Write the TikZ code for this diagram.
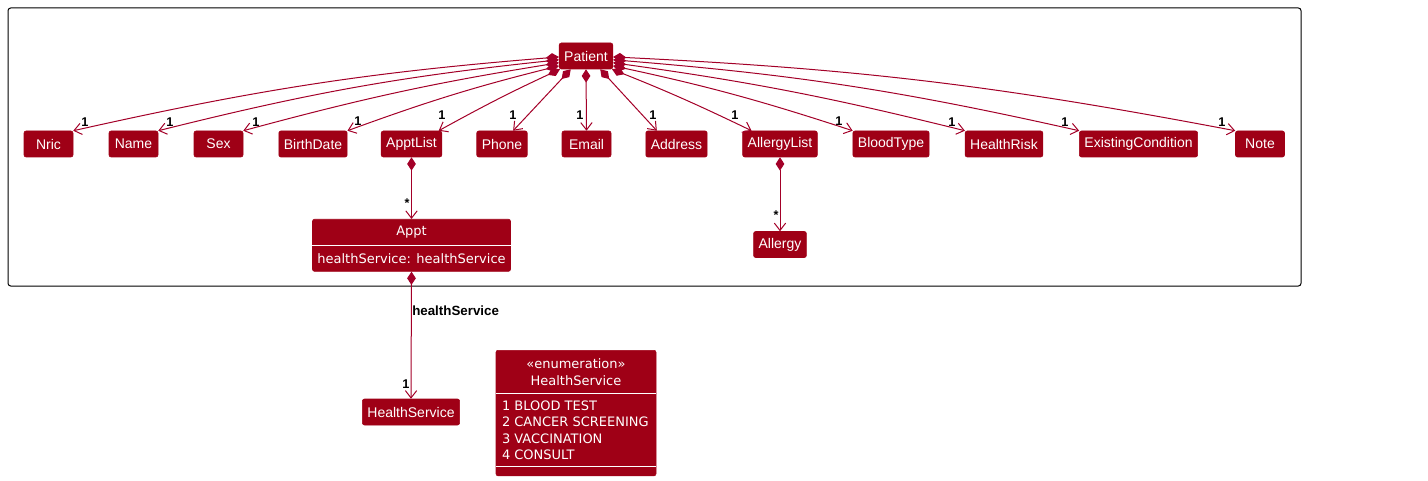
\documentclass[tikz,border=0pt]{standalone}
\usepackage{fontspec}
\setmainfont{Liberation Sans}
\newfontfamily\attrfont{DejaVu Sans}
\usetikzlibrary{arrows.meta,shapes.multipart}
\definecolor{umlred}{HTML}{9F0016}
\definecolor{umlline}{HTML}{A30028}
\newcommand\attrsize{\attrfont\fontsize{9.75}{12.4}\selectfont}

\tikzset{
  cls/.style={fill=umlred, draw=umlred, rounded corners=1.5pt, text=white,
    font=\fontsize{10.5}{12}\selectfont, minimum height=19.5pt,
    minimum width=36.75pt, inner xsep=3.75pt, inner ysep=0pt},
  splitcls/.style={rectangle split, rectangle split parts=#1, fill=umlred,
    draw=umlred, rounded corners=1.5pt, text=white, inner sep=0pt, font=\attrsize},
  mult/.style={font=\bfseries\fontsize{9.5}{10}\selectfont, inner sep=0pt},
  owns/.style={draw=umlline, line width=0.75pt,
    {Diamond[length=10pt,width=6.5pt]}-{Straight Barb[length=5.5pt,width=8.5pt]}},
  splitline/.style={draw=white, line width=0.75pt}
}

\begin{document}
\begin{tikzpicture}[x=0.75pt,y=-0.75pt]
  \useasboundingbox (0,0) rectangle (1428,481);
  %% package frame
  \draw[rounded corners=2pt, line width=0.75pt] (8,8) rectangle (1301,286);

  %% classes
  \node[cls] (Patient) at (586,56) {Patient};
  \foreach \cname/\x in {Nric/48.5, Name/133.5, Sex/218.5, BirthDate/313,
    ApptList/411.5, Phone/502, Email/586.5, Address/676.5, AllergyList/780,
    BloodType/891, HealthRisk/1004, ExistingCondition/1138.5, Note/1260}
  {
    \node[cls] (\cname) at (\x,144) {\cname};
  }
  \node[cls] (Allergy) at (780,244.5) {Allergy};
  \node[cls] (HealthService) at (411,412) {HealthService};

  \node[splitcls=2, anchor=north] (Appt) at (411.5,219)
    {\parbox[c][19.5pt][c]{148.5pt}{\centering Appt}
     \nodepart{two}\parbox[c][18.75pt][c]{148.5pt}{\centering healthService: healthService}};
  \draw[splitline] (Appt.text split west) -- (Appt.text split east);

  \node[splitcls=3, anchor=north] (EnumHS) at (576,350)
    {\parbox[c][32.25pt][c]{120pt}{\centering «enumeration»\\HealthService}
     \nodepart{two}\parbox[c][54pt][c]{120pt}{\leftskip=4.5pt
       1 BLOOD TEST\\2 CANCER SCREENING\\3 VACCINATION\\4 CONSULT}
     \nodepart{three}\parbox[c][6.75pt]{120pt}{}};
  \draw[splitline] (EnumHS.text split west) -- (EnumHS.text split east);
  \draw[splitline] (EnumHS.two split west) -- (EnumHS.two split east);

  %% compositions from Patient
  \foreach \tgt/\sa/\ta/\bnd in {Nric/182/north east/-4, Name/188/north east/-4,
    Sex/194/north east/-3, BirthDate/200/north east/-3, ApptList/207/26/-2,
    Phone/221/50/0, Email/south/north/0, Address/-43/146/0, AllergyList/-27/155/2,
    BloodType/-20/north west/3, HealthRisk/-14/north west/3,
    ExistingCondition/-8/north west/4, Note/-2/north west/4}
  {
    \draw[owns] (Patient.\sa) to[bend left=\bnd] (\tgt.\ta);
  }
  \foreach \tgt/\x/\y in {Nric/85/122, Name/170/122, Sex/256/122, BirthDate/358/121,
    ApptList/442/115, Phone/513/115, Email/580/115, Address/653/115,
    AllergyList/735/115, BloodType/839/121, HealthRisk/952/122,
    ExistingCondition/1065/122, Note/1222/122}
  {
    \node[mult] (m\tgt) at (\x,\y) {1};
  }

  %% nested compositions
  \draw[owns] (ApptList.south) -- (Appt.north);
  \node[mult] (mAppt) at (407,203) {*};
  \draw[owns] (AllergyList.south) -- (Allergy.north);
  \node[mult] (mAllergy) at (776,215) {*};
  \draw[owns] (Appt.south) -- (HealthService.north);
  \node[mult] (mHealthService) at (406,384) {1};
  \node[mult, anchor=west, font=\bfseries\fontsize{10}{11}\selectfont] (roleHS)
    at (412,311) {healthService};
\end{tikzpicture}
\end{document}
